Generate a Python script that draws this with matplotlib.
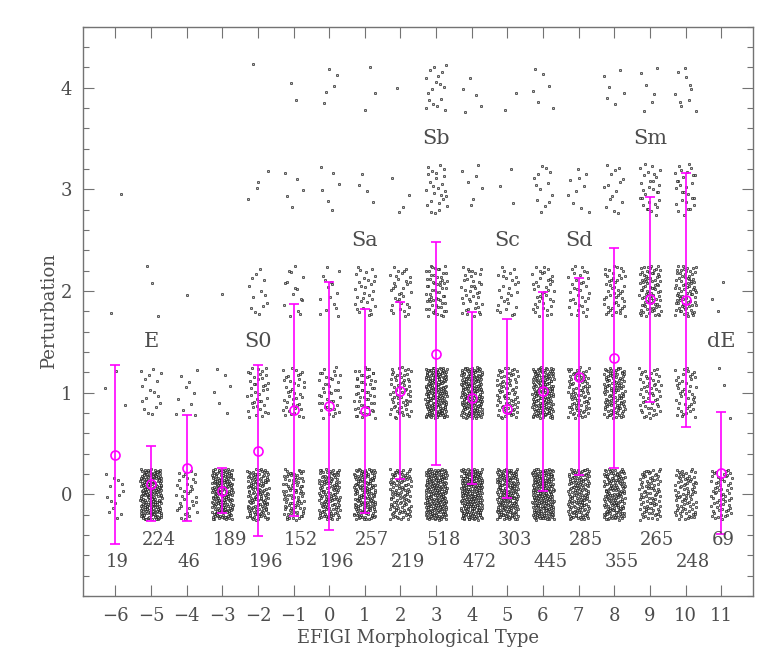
import numpy as np
import matplotlib
matplotlib.use("Agg")
import matplotlib.pyplot as plt
from matplotlib.ticker import MultipleLocator

plt.rcParams['font.family'] = ['DejaVu Serif']

########### data

types = [-6, -5, -4, -3, -2, -1, 0, 1, 2, 3, 4, 5, 6, 7, 8, 9, 10, 11]
totals = [19, 224, 46, 189, 196, 152, 196, 257, 219, 518, 472, 303, 445, 285, 355, 265, 248, 69]

# number of galaxies at perturbation level 0, 1, 2, 3, 4 (estimated from the point clouds)
n_level0 = [14, 204, 35, 182, 138, 90, 130, 165, 115, 215, 230, 190, 216, 150, 164, 90, 85, 63]
n_level1 = [3, 17, 10, 6, 40, 40, 40, 55, 65, 200, 190, 80, 170, 90, 120, 55, 45, 3]
n_level2 = [1, 3, 1, 1, 13, 15, 15, 30, 34, 61, 40, 28, 40, 35, 50, 85, 80, 3]
n_level3 = [1, 0, 0, 0, 4, 5, 6, 4, 4, 25, 7, 3, 13, 10, 15, 29, 28, 0]
n_level4 = [0, 0, 0, 0, 1, 2, 5, 3, 1, 17, 5, 2, 6, 0, 6, 6, 10, 0]

# mean perturbation and dispersion (magenta)
mean_pert = [0.39, 0.105, 0.26, 0.036, 0.43, 0.83, 0.866, 0.82, 1.02, 1.385,
             0.948, 0.84, 1.013, 1.157, 1.343, 1.92, 1.91, 0.21]
sig_pert = [0.88, 0.37, 0.52, 0.22, 0.84, 1.04, 1.22, 1.0, 0.87, 1.1,
            0.85, 0.88, 0.98, 0.97, 1.08, 1.01, 1.25, 0.6]

class_names = ['E', 'S0', 'Sa', 'Sb', 'Sc', 'Sd', 'Sm', 'dE']
class_types = [-5, -2, 1, 3, 5, 7, 9, 11]
class_ypos = [1.5, 1.5, 2.5, 3.5, 2.5, 2.5, 3.5, 1.5]


def halton(i, b):
    # deterministic jitter
    f, r = 1.0, 0.0
    while i > 0:
        f = f / b
        r += f * (i % b)
        i //= b
    return r


levels = [n_level0, n_level1, n_level2, n_level3, n_level4]
xs, ys = [], []
k = 1
for j, t in enumerate(types):
    for lev, counts in enumerate(levels):
        for m in range(counts[j]):
            xs.append(t + (halton(k, 2) - 0.5) * 0.6)
            ys.append(lev + (halton(k, 3) - 0.5) * 0.5)
            k += 1

########### plot

fig = plt.figure(figsize=(7.64, 6.71), dpi=100)
ax = fig.add_axes([0.109, 0.112, 0.876, 0.848])

ax.scatter(xs, ys, s=3.0, marker='o', facecolors='0.75', edgecolors='k',
           linewidths=0.4, zorder=2)

ax.errorbar(types, mean_pert, yerr=sig_pert, fmt='o', color=(1, 0, 1),
            mfc='none', mec=(1, 0, 1), ms=6.5, mew=1.2, elinewidth=1.2,
            capsize=3.5, capthick=1.2, zorder=3)

txtc = '0.3'
for j, t in enumerate(types):
    yy = -0.67 if j % 2 == 0 else -0.45
    ax.text(t - 0.27, yy, str(totals[j]), ha='left', va='center',
            fontsize=13, color=txtc)

for name, t, yy in zip(class_names, class_types, class_ypos):
    ax.text(t, yy, name, ha='center', va='center', fontsize=15, color=txtc)

ax.set_xlim(-6.9, 11.88)
ax.set_ylim(-1, 4.6)
ax.set_xticks(types)
ax.set_xticklabels([str(t).replace('-', '\u2212') for t in types])
ax.set_yticks([0, 1, 2, 3, 4])
ax.yaxis.set_minor_locator(MultipleLocator(0.2))

ax.tick_params(which='both', direction='in', top=True, right=True,
               colors='0.45', labelcolor=txtc, labelsize=13)
ax.tick_params(which='major', length=8, width=0.8, pad=8)
ax.tick_params(which='minor', length=4, width=0.8)
for sp in ax.spines.values():
    sp.set_color('0.45')
    sp.set_linewidth(1.0)

ax.set_xlabel("EFIGI Morphological Type", fontsize=13, color=txtc, labelpad=3)
ax.set_ylabel("Perturbation", fontsize=13, color=txtc, labelpad=2)

fig.savefig("out.png", dpi=100)
